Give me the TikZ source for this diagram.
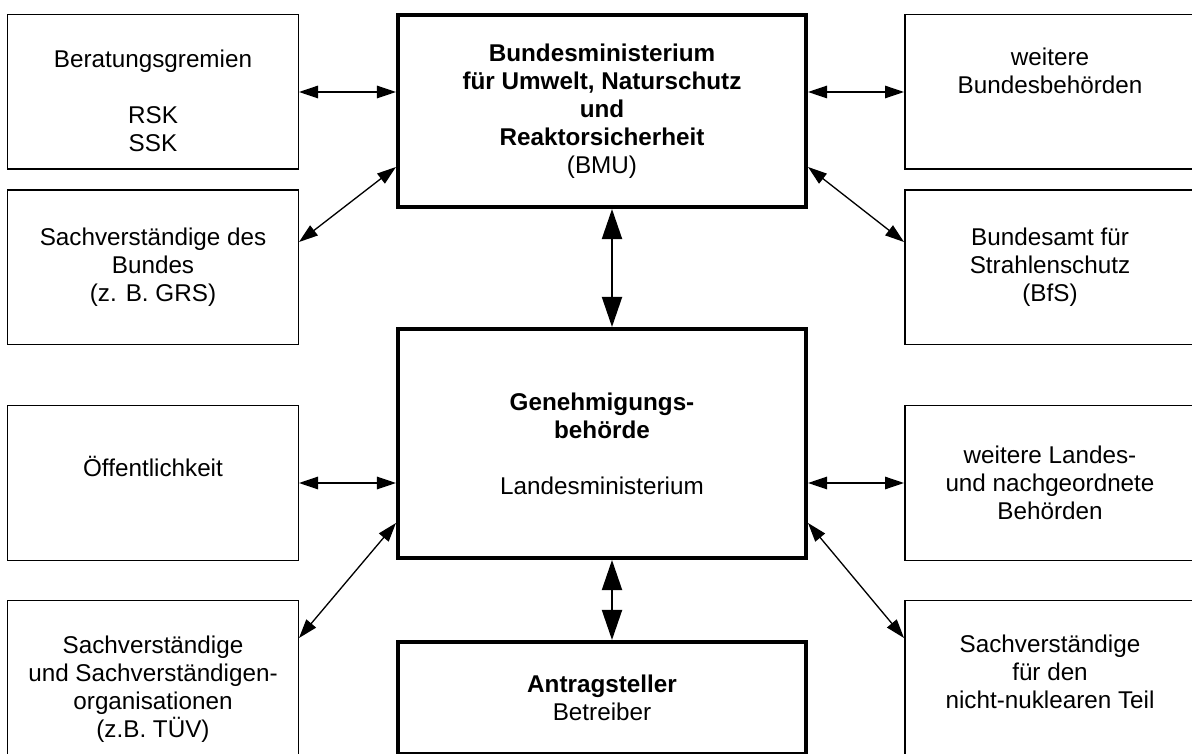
\documentclass[tikz,border=0pt]{standalone}
\usepackage{fontspec}
\setmainfont{Liberation Sans}
\usepackage{tikz}
\usetikzlibrary{arrows.meta, positioning}
\tikzset{
  sidebox/.style={rectangle, draw=black, line width=0.85pt, minimum width=5.81cm, minimum height=3.09cm, align=center, font=\fontsize{13.8}{15.9}\selectfont},
  mainbox/.style={rectangle, draw=black, line width=2.3pt, minimum width=8.16cm, align=center, font=\fontsize{13.8}{15.9}\selectfont},
  biarrow/.style={{Triangle[length=3.8mm,width=2.5mm]}-{Triangle[length=3.8mm,width=2.5mm]}, line width=0.75pt},
  bigarrow/.style={{Triangle[length=6mm,width=4mm]}-{Triangle[length=6mm,width=4mm]}, line width=1.1pt}
}
\begin{document}
\begin{tikzpicture}
  \useasboundingbox (0,0) rectangle (23.84,15.06);
  \clip (0,0) rectangle (23.84,15.06);

  % Bund
  \node[mainbox, minimum height=3.84cm] (bmu) at (12.04,12.84) {\textbf{Bundesministerium}\\\textbf{für Umwelt, Naturschutz}\\\textbf{und}\\\textbf{Reaktorsicherheit}\\(BMU)};
  \node[sidebox] (bera) at (3.06,13.22) {\mbox{}\\[4.3pt]Beratungsgremien\\[15.9pt]RSK\\SSK};
  \node[sidebox] (svbund) at (3.06,9.71) {Sachverständige des\\Bundes\\(z. B. GRS)};
  \node[sidebox] (weitere) at (21.0,13.22) {weitere\\Bundesbehörden\\[7.9pt]\mbox{}};
  \node[sidebox] (bfs) at (21.0,9.71) {Bundesamt für\\Strahlenschutz\\(BfS)};

  % Land
  \node[mainbox, minimum height=4.58cm] (gen) at (12.04,6.19) {\textbf{Genehmigungs-}\\\textbf{behörde}\\[15.9pt]Landesministerium};
  \node[sidebox] (oeff) at (3.06,5.40) {Öffentlichkeit\\[2.8pt]\mbox{}};
  \node[sidebox] (svorg) at (3.06,1.50) {\mbox{}\\[6.5pt]Sachverständige\\und Sachverständigen-\\organisationen\\(z.B. TÜV)};
  \node[sidebox] (land) at (21.0,5.40) {weitere Landes-\\und nachgeordnete\\Behörden};
  \node[sidebox] (svnn) at (21.0,1.50) {Sachverständige\\für den\\nicht-nuklearen Teil\\[-9pt]\mbox{}};

  \node[mainbox, minimum height=2.24cm] (antrag) at (12.04,1.10) {\textbf{Antragsteller}\\Betreiber};

  \draw[biarrow] (bera.east) -- (bera.east -| bmu.west);
  \draw[biarrow] (weitere.west) -- (weitere.west -| bmu.east);
  \draw[biarrow] ([yshift=0.51cm]svbund.east) -- ([yshift=-1.12cm]bmu.west);
  \draw[biarrow] ([yshift=-1.12cm]bmu.east) -- ([yshift=0.51cm]bfs.west);
  \draw[bigarrow] ([xshift=0.2cm]bmu.south) -- ([xshift=0.2cm]gen.north);

  \draw[biarrow] (oeff.east) -- (oeff.east -| gen.west);
  \draw[biarrow] (land.west) -- (land.west -| gen.east);
  \draw[biarrow] ([yshift=-1.59cm]gen.west) -- ([yshift=0.8cm]svorg.east);
  \draw[biarrow] ([yshift=-1.59cm]gen.east) -- ([yshift=0.8cm]svnn.west);
  \draw[bigarrow] ([xshift=0.2cm]gen.south) -- ([xshift=0.2cm]antrag.north);
\end{tikzpicture}
\end{document}
